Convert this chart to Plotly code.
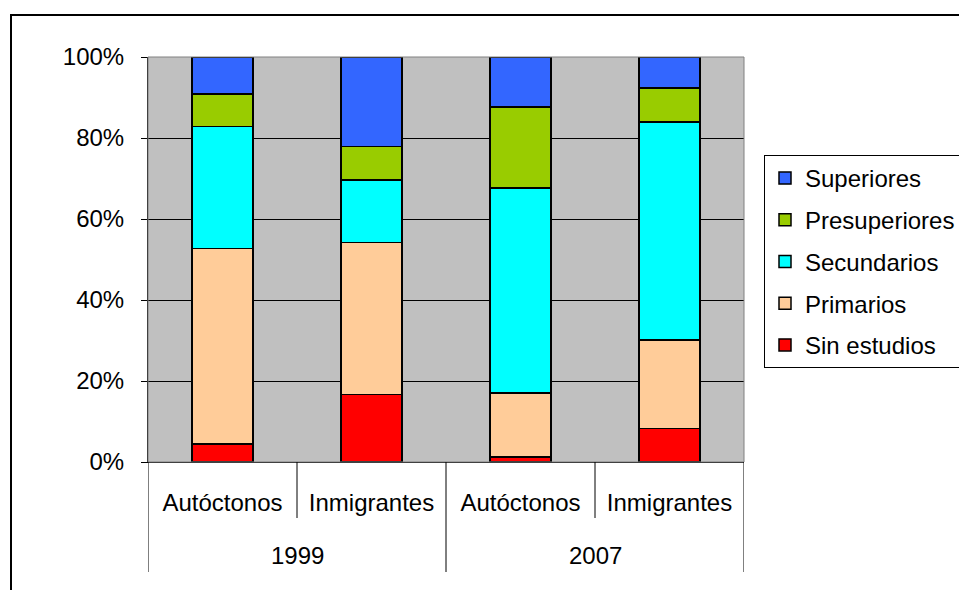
import plotly.graph_objects as go

years = ["1999", "2007"]
groups = ["Autóctonos", "Inmigrantes", "Autóctonos", "Inmigrantes"]
bar_year = ["1999", "1999", "2007", "2007"]

series_names = ["Sin estudios", "Primarios", "Secundarios", "Presuperiores", "Superiores"]
sin_estudios = [4.4, 16.7, 1.2, 8.3]
primarios = [48.3, 37.5, 15.9, 21.8]
secundarios = [30.1, 15.4, 50.5, 53.8]
presuperiores = [8.1, 8.3, 20.1, 8.4]
superiores = [9.1, 22.1, 12.3, 7.7]
series_values = [sin_estudios, primarios, secundarios, presuperiores, superiores]
colors = ["#FF0000", "#FFCC99", "#00FFFF", "#99CC00", "#3366FF"]

y_ticks = [0, 20, 40, 60, 80, 100]

FONT = "Liberation Sans, Arial, sans-serif"
FS = 24

xpos = list(range(len(groups)))

fig = go.Figure()
n = len(series_names)
for i, (name, vals, col) in enumerate(zip(series_names, series_values, colors)):
    fig.add_trace(go.Bar(
        x=xpos, y=vals, name=name, legendgroup=name, legendrank=n - i,
        marker=dict(color=col, line=dict(color="black", width=1.5)),
    ))

# plot-area pixel geometry
L, R, T, B = 148, 744, 57, 462
W, H = R - L, B - T

def px(xp):
    return (xp - L) / W

def py(yp):
    return (B - yp) / H

shapes = [
    dict(type="rect", xref="paper", yref="paper", x0=px(11), x1=px(975),
         y0=py(605), y1=py(15), line=dict(color="black", width=2), layer="below"),
    dict(type="rect", xref="paper", yref="paper", x0=0, x1=1, y0=0, y1=1,
         line=dict(color="#808080", width=1)),
]
for k in range(len(groups) + 1):
    xv = k - 0.5
    full = (k == 0 or k == len(groups) or bar_year[k] != bar_year[k - 1])
    shapes.append(dict(type="line", xref="x", yref="paper", x0=xv, x1=xv,
                       y0=0, y1=py(572 if full else 518),
                       line=dict(color="black", width=1)))

annotations = []
for yr in years:
    idx = [i for i, b in enumerate(bar_year) if b == yr]
    annotations.append(dict(
        x=sum(idx) / len(idx), xref="x", y=py(555), yref="paper",
        text=yr, showarrow=False, xanchor="center", yanchor="middle",
        font=dict(family=FONT, size=FS, color="black"),
    ))

fig.update_layout(
    width=959, height=590, autosize=False,
    margin=dict(l=L, r=959 - R, t=T, b=590 - B, pad=0, autoexpand=False),
    barmode="stack", bargap=0.59,
    plot_bgcolor="#C0C0C0", paper_bgcolor="white",
    font=dict(family=FONT, size=FS, color="black"),
    showlegend=True,
    legend=dict(
        traceorder="grouped", tracegroupgap=7.5,
        x=px(764), y=py(155), xanchor="left", yanchor="top",
        bordercolor="black", borderwidth=1, bgcolor="white",
        font=dict(family=FONT, size=FS, color="black"),
        itemwidth=30,
    ),
    shapes=shapes,
    annotations=annotations,
)
fig.update_xaxes(
    range=[-0.5, len(groups) - 0.5], tickvals=xpos, ticktext=groups,
    showline=True, linecolor="black", linewidth=1,
    showgrid=False, ticks="", ticklabelstandoff=19, zeroline=False,
    tickfont=dict(family=FONT, size=FS, color="black"),
)
fig.update_yaxes(
    range=[0, 100], tickvals=y_ticks, ticktext=[f"{v}%" for v in y_ticks],
    showgrid=True, gridcolor="black", gridwidth=1,
    showline=True, linecolor="black", linewidth=1,
    ticks="outside", ticklen=6, tickcolor="black", ticklabelstandoff=12,
    zeroline=False,
    tickfont=dict(family=FONT, size=FS, color="black"),
)

fig.write_html("out.html")
